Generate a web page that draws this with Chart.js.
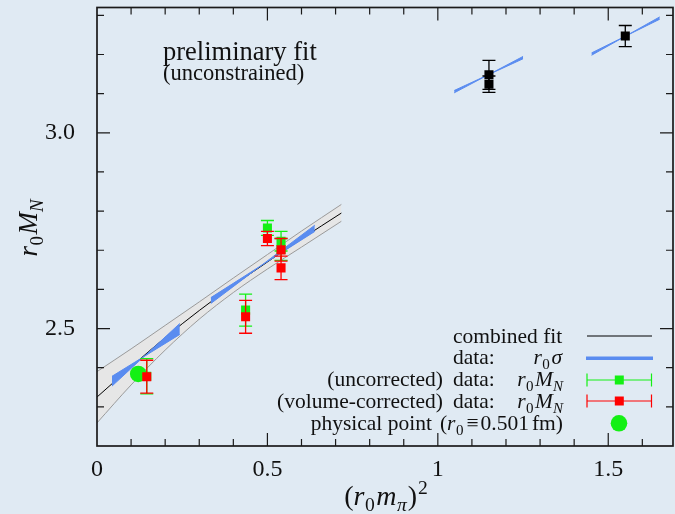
<!DOCTYPE html>
<html>
<head>
<meta charset="utf-8">
<script src="https://cdn.jsdelivr.net/npm/chart.js@4.4.0/dist/chart.umd.min.js"></script>
<style>
  html, body { margin: 0; padding: 0; background: #e0eaf3; }
  #wrap { width: 675px; height: 514px; }
</style>
</head>
<body>
<div id="wrap"><canvas id="massChart"></canvas></div>
<script>
// ---- values ----
const xTicks = [0, 0.5, 1, 1.5];
const yTicks = [2.5, 3.0];

// combined fit + error band
const fitX     = [0, 0.1, 0.2, 0.3, 0.4, 0.5, 0.6, 0.717];
const fitMid   = [2.325, 2.402, 2.477, 2.546, 2.610, 2.670, 2.729, 2.795];
const fitUpper = [2.390, 2.448, 2.508, 2.568, 2.629, 2.689, 2.749, 2.817];
const fitLower = [2.259, 2.356, 2.445, 2.524, 2.592, 2.652, 2.708, 2.774];

// r0*sigma segments: x range and the two edges at start / end
const sigmaX0 = [0.044, 0.334, 1.048, 1.451];
const sigmaX1 = [0.243, 0.639, 1.250, 1.651];
const sigmaA0 = [2.378, 2.579, 3.108, 3.204];
const sigmaA1 = [2.485, 2.748, 3.189, 3.290];
const sigmaB0 = [2.353, 2.564, 3.102, 3.198];
const sigmaB1 = [2.513, 2.764, 3.195, 3.296];

// (uncorrected) data: r0 M_N
const uncorrX   = [0.146, 0.436, 0.500, 0.540, 0.540];
const uncorrY   = [2.378, 2.547, 2.757, 2.723, 2.702];
const uncorrErr = [0.045, 0.041, 0.019, 0.025, 0.028];
// (volume-corrected) data: r0 M_N
const volX   = [0.146, 0.436, 0.500, 0.540, 0.540];
const volY   = [2.377, 2.530, 2.730, 2.701, 2.655];
const volErr = [0.042, 0.042, 0.018, 0.029, 0.030];
// heavy points (black)
const heavyX   = [1.150, 1.150, 1.550];
const heavyY   = [3.148, 3.124, 3.247];
const heavyErr = [0.037, 0.021, 0.027];
// physical point
const physX = [0.121];
const physY = [2.384];

const bgColor = '#e0eaf3';
const blueColor = '#5a8cf0';
const greenColor = '#14f014';
const redColor = '#ff0000';
const SERIF = '"Liberation Serif", "DejaVu Serif", serif';

const zip = (xs, ys) => xs.map((x, i) => ({ x: x, y: ys[i] }));

const datasets = [];
// error band (lower, then upper filled down to it)
datasets.push({ data: zip(fitX, fitLower), borderColor: '#9a9a9a', borderWidth: 1, pointRadius: 0, fill: false,
  cubicInterpolationMode: 'monotone', order: 20 });
datasets.push({ data: zip(fitX, fitUpper), borderColor: '#9a9a9a', borderWidth: 1, pointRadius: 0, fill: '-1',
  backgroundColor: '#e6e6e6', cubicInterpolationMode: 'monotone', order: 20 });
datasets.push({ data: zip(fitX, fitMid), borderColor: '#000', borderWidth: 1, pointRadius: 0, fill: false,
  cubicInterpolationMode: 'monotone', order: 15 });

// r0 sigma bands
sigmaX0.forEach((x0, i) => {
  const xs = [x0, sigmaX1[i]];
  datasets.push({ data: zip(xs, [sigmaA0[i], sigmaA1[i]]), borderColor: blueColor, borderWidth: 1, pointRadius: 0, fill: false, order: 10 });
  datasets.push({ data: zip(xs, [sigmaB0[i], sigmaB1[i]]), borderColor: blueColor, borderWidth: 1, pointRadius: 0, fill: '-1', backgroundColor: blueColor, order: 10 });
});

datasets.push({ data: zip(uncorrX, uncorrY), errors: uncorrErr, errColor: greenColor, showLine: false,
  pointStyle: 'rect', pointRadius: 6.4, backgroundColor: greenColor, borderWidth: 0, order: 4 });
datasets.push({ data: zip(physX, physY), showLine: false,
  pointStyle: 'circle', pointRadius: 8.3, backgroundColor: greenColor, borderWidth: 0, order: 3 });
datasets.push({ data: zip(volX, volY), errors: volErr, errColor: redColor, showLine: false,
  pointStyle: 'rect', pointRadius: 6.4, backgroundColor: redColor, borderWidth: 0, order: 2 });
datasets.push({ data: zip(heavyX, heavyY), errors: heavyErr, errColor: '#000', showLine: false,
  pointStyle: 'rect', pointRadius: 6.4, backgroundColor: '#000', borderWidth: 0, order: 1 });

// write text made of runs (italic / subscript / superscript)
function drawRuns(ctx, runs, x, y, size, align) {
  const parts = runs.map(r => {
    const s = (r.sub || r.sup) ? size * 0.7 : size;
    const font = (r.it ? 'italic ' : '') + s + 'px ' + SERIF;
    ctx.font = font;
    return { r: r, font: font, w: ctx.measureText(r.t).width + (r.gap || 0),
      dy: r.sub ? size * 0.22 : (r.sup ? -size * 0.4 : 0) };
  });
  const total = parts.reduce((a, p) => a + p.w, 0);
  let cx = align === 'right' ? x - total : (align === 'center' ? x - total / 2 : x);
  ctx.textAlign = 'left';
  ctx.textBaseline = 'alphabetic';
  parts.forEach(p => {
    ctx.font = p.font;
    ctx.fillText(p.r.t, cx, y + p.dy);
    cx += p.w;
  });
}

const r0MN = [{ t: 'r', it: 1, gap: 0.5 }, { t: '0', sub: 1, gap: 1.5 }, { t: 'M', it: 1 }, { t: 'N', it: 1, sub: 1 }];

const errorBars = {
  id: 'errorBars',
  beforeDatasetDraw(chart, args) {
    const ds = chart.data.datasets[args.index];
    if (!ds.errors) return;
    const ctx = chart.ctx, xs = chart.scales.x, ys = chart.scales.y;
    ctx.save();
    ctx.strokeStyle = ds.errColor;
    ctx.lineWidth = 1.3;
    ds.data.forEach((p, i) => {
      const px = xs.getPixelForValue(p.x);
      const top = ys.getPixelForValue(p.y + ds.errors[i]);
      const bot = ys.getPixelForValue(p.y - ds.errors[i]);
      ctx.beginPath();
      ctx.moveTo(px, top); ctx.lineTo(px, bot);
      ctx.moveTo(px - 6.5, top); ctx.lineTo(px + 6.5, top);
      ctx.moveTo(px - 6.5, bot); ctx.lineTo(px + 6.5, bot);
      ctx.stroke();
    });
    ctx.restore();
  }
};

const background = {
  id: 'background',
  beforeDraw(chart) {
    const ctx = chart.ctx;
    ctx.save();
    ctx.fillStyle = bgColor;
    ctx.fillRect(0, 0, chart.width, chart.height);
    ctx.restore();
  }
};

const frameAndText = {
  id: 'frameAndText',
  afterDraw(chart) {
    const ctx = chart.ctx, a = chart.chartArea;
    const xs = chart.scales.x, ys = chart.scales.y;
    ctx.save();
    ctx.strokeStyle = '#1a1a1a';
    ctx.lineWidth = 1.2;
    // inward ticks on all four sides
    ctx.beginPath();
    for (let k = Math.ceil(xs.min * 10); k <= Math.floor(xs.max * 10); k++) {
      const px = xs.getPixelForValue(k / 10);
      if (px <= a.left + 1 || px >= a.right - 1) continue;
      const len = k % 5 === 0 ? 13 : 7;
      ctx.moveTo(px, a.bottom); ctx.lineTo(px, a.bottom - len);
      ctx.moveTo(px, a.top); ctx.lineTo(px, a.top + len);
    }
    for (let k = Math.ceil(ys.min * 10); k <= Math.floor(ys.max * 10); k++) {
      const py = ys.getPixelForValue(k / 10);
      if (py <= a.top + 1 || py >= a.bottom - 1) continue;
      const len = k % 5 === 0 ? 13 : 7;
      ctx.moveTo(a.left, py); ctx.lineTo(a.left + len, py);
      ctx.moveTo(a.right, py); ctx.lineTo(a.right - len, py);
    }
    ctx.stroke();
    ctx.lineWidth = 1.7;
    ctx.strokeRect(a.left, a.top, a.right - a.left, a.bottom - a.top);

    ctx.fillStyle = '#111';
    // annotation
    ctx.font = '26.5px ' + SERIF;
    ctx.textAlign = 'left'; ctx.textBaseline = 'alphabetic';
    ctx.fillText('preliminary fit', 163, 59.5);
    ctx.font = '22.5px ' + SERIF;
    ctx.fillText('(unconstrained)', 163, 80);

    // axis titles
    drawRuns(ctx, [{ t: '(' }, { t: 'r', it: 1, gap: 0.5 }, { t: '0', sub: 1, gap: 1.5 }, { t: 'm', it: 1, gap: 0.5 },
      { t: 'π', it: 1, sub: 1, gap: 1 }, { t: ')', gap: 1 }, { t: '2', sup: 1 }], 386, 505, 28, 'center');
    ctx.save();
    ctx.translate(37, 228);
    ctx.rotate(-Math.PI / 2);
    drawRuns(ctx, r0MN, 0, 0, 27, 'center');
    ctx.restore();

    // legend
    const lf = 21.5;
    const txt = (t, x, y, align) => { ctx.font = lf + 'px ' + SERIF; ctx.textAlign = align; ctx.fillText(t, x, y); };
    txt('combined fit', 453, 342.7, 'left');
    txt('data:', 453, 364, 'left');
    drawRuns(ctx, [{ t: 'r', it: 1, gap: 0.5 }, { t: '0', sub: 1, gap: 1.5 }, { t: 'σ', it: 1 }], 562, 364, lf, 'right');
    txt('(uncorrected)', 443, 386, 'right');
    txt('data:', 453, 386, 'left');
    drawRuns(ctx, r0MN, 563, 386, lf, 'right');
    txt('(volume-corrected)', 443, 408, 'right');
    txt('data:', 453, 408, 'left');
    drawRuns(ctx, r0MN, 563, 408, lf, 'right');
    drawRuns(ctx, [{ t: 'physical point', gap: 8 }, { t: '(' }, { t: 'r', it: 1, gap: 0.5 }, { t: '0', sub: 1, gap: 3 },
      { t: '≡', gap: 2 }, { t: '0.501', gap: 3 }, { t: 'fm)' }], 563, 430, lf, 'right');

    // legend samples
    ctx.lineWidth = 1;
    ctx.strokeStyle = '#000';
    ctx.beginPath(); ctx.moveTo(587, 336); ctx.lineTo(652, 336); ctx.stroke();
    ctx.lineWidth = 3.5;
    ctx.strokeStyle = blueColor;
    ctx.beginPath(); ctx.moveTo(586, 358.3); ctx.lineTo(653, 358.3); ctx.stroke();
    [[380, greenColor], [401, redColor]].forEach(([y, c]) => {
      ctx.strokeStyle = c; ctx.fillStyle = c; ctx.lineWidth = 1.2;
      ctx.beginPath();
      ctx.moveTo(587, y); ctx.lineTo(651.5, y);
      ctx.moveTo(587, y - 6.5); ctx.lineTo(587, y + 6.5);
      ctx.moveTo(651.5, y - 6.5); ctx.lineTo(651.5, y + 6.5);
      ctx.stroke();
      ctx.fillRect(619.3 - 4.5, y - 4.5, 9, 9);
    });
    ctx.fillStyle = greenColor;
    ctx.beginPath(); ctx.arc(619, 423.3, 8.3, 0, Math.PI * 2); ctx.fill();
    ctx.restore();
  }
};

new Chart(document.getElementById('massChart'), {
  type: 'line',
  data: { datasets: datasets },
  options: {
    responsive: true,
    maintainAspectRatio: false,
    animation: false,
    layout: { autoPadding: false, padding: { top: 7.5, right: 2, left: 0, bottom: 0 } },
    plugins: { legend: { display: false }, tooltip: { enabled: false } },
    scales: {
      x: {
        type: 'linear', min: 0, max: 1.69,
        grid: { display: false, drawTicks: false },
        border: { display: false },
        afterBuildTicks: s => { s.ticks = xTicks.map(v => ({ value: v })); },
        afterFit: s => { s.height = 68; s.paddingLeft = 0; s.paddingRight = 0; },
        ticks: { padding: 9, color: '#111', font: { family: SERIF, size: 24 },
          callback: v => String(v) }
      },
      y: {
        type: 'linear', min: 2.2, max: 3.32,
        grid: { display: false, drawTicks: false },
        border: { display: false },
        afterBuildTicks: s => { s.ticks = yTicks.map(v => ({ value: v })); },
        afterFit: s => { s.width = 97; s.paddingTop = 0; s.paddingBottom = 0; },
        ticks: { padding: 22, color: '#111', font: { family: SERIF, size: 24 },
          callback: v => v.toFixed(1) }
      }
    }
  },
  plugins: [background, errorBars, frameAndText]
});
</script>
</body>
</html>
